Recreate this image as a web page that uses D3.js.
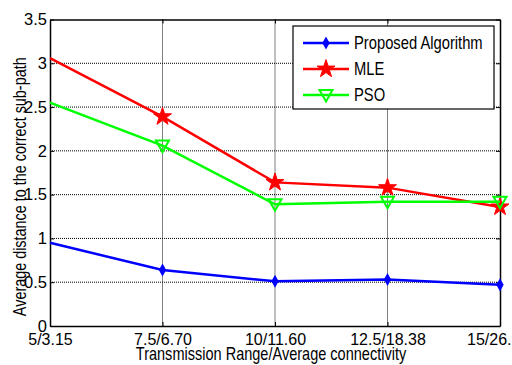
<!DOCTYPE html>
<html>
<head>
<meta charset="utf-8">
<script src="https://cdn.jsdelivr.net/npm/d3@7"></script>
<style>
  body { margin: 0; background: #fff; }
  svg { display: block; font-family: "Liberation Sans", Arial, sans-serif; }
  .grid line { stroke: #000; stroke-dasharray: 1,1; stroke-width: 1; }
</style>
</head>
<body>
<svg id="chart" width="512" height="365"></svg>
<script>
// categories on the x axis
var categories = ["5/3.15", "7.5/6.70", "10/11.60", "12.5/18.38", "15/26."];
var yTicks = [0, 0.5, 1, 1.5, 2, 2.5, 3, 3.5];

// series values
var proposed = [0.95, 0.64, 0.51, 0.53, 0.47];
var mle = [3.06, 2.39, 1.64, 1.58, 1.36];
var pso = [2.55, 2.06, 1.39, 1.42, 1.42];

var seriesNames = ["Proposed Algorithm", "MLE", "PSO"];
var seriesColors = ["#0000ff", "#ff0000", "#00ff00"];
var seriesMarkers = ["diamond", "star", "triangle"];

var svg = d3.select("#chart"),
    margin = { top: 19.5, right: 12, bottom: 39, left: 50 },
    width = +svg.attr("width") - margin.left - margin.right,
    height = +svg.attr("height") - margin.top - margin.bottom;

var x = d3.scalePoint().domain(categories).range([0, width]);
var y = d3.scaleLinear().domain([0, 3.5]).range([height, 0]);

var g = svg.append("g")
    .attr("transform", "translate(" + margin.left + "," + margin.top + ")");

// grid
g.append("g").attr("class", "grid")
    .selectAll("line").data(yTicks.slice(1, -1)).enter().append("line")
    .attr("x1", 0).attr("x2", width)
    .attr("y1", function (d) { return y(d); })
    .attr("y2", function (d) { return y(d); });
g.append("g").attr("class", "grid")
    .selectAll("line").data(categories.slice(1, -1)).enter().append("line")
    .attr("y1", 0).attr("y2", height)
    .attr("x1", function (d) { return x(d); })
    .attr("x2", function (d) { return x(d); });

// axes
var xAxis = g.append("g")
    .attr("transform", "translate(0," + height + ")")
    .call(d3.axisBottom(x).tickSize(-4).tickSizeOuter(0).tickPadding(8));
xAxis.selectAll("text").style("font-size", "16px").attr("fill", "#000");
// last label is cut by the figure edge in the original, keep it inside
xAxis.selectAll(".tick:last-of-type text").attr("text-anchor", "end").attr("dx", "11");

var yAxis = g.append("g")
    .call(d3.axisLeft(y).tickValues(yTicks).tickFormat(d3.format("")).tickSize(-4).tickSizeOuter(0).tickPadding(3));
yAxis.selectAll("text").style("font-size", "16.5px").attr("fill", "#000");

// mirror ticks on top and right
g.append("g").call(d3.axisTop(x).tickSize(-4).tickSizeOuter(0).tickFormat(""));
g.append("g").attr("transform", "translate(" + width + ",0)")
    .call(d3.axisRight(y).tickValues(yTicks).tickSize(-4).tickSizeOuter(0).tickFormat(""));

g.selectAll(".domain").attr("stroke", "#000").attr("stroke-width", 1.5);
g.selectAll(".tick line").attr("stroke", "#000");

// lines and markers
var allSeries = [proposed, mle, pso];
var line = d3.line()
    .x(function (d, i) { return x(categories[i]); })
    .y(function (d) { return y(d); });

function marker(sel, type, color) {
    if (type === "diamond") {
        sel.append("path").attr("d", "M0,-5L2.8,0L0,5L-2.8,0Z")
            .attr("fill", color).attr("stroke", color).attr("stroke-width", 1.5);
    } else if (type === "star") {
        sel.append("path").attr("d", d3.symbol(d3.symbolStar, 100)())
            .attr("fill", color).attr("stroke", color).attr("stroke-width", 1);
    } else {
        sel.append("path").attr("d", "M-6.5,-5L6.5,-5L0,6.5Z")
            .attr("fill", "none").attr("stroke", color).attr("stroke-width", 2);
    }
}

allSeries.forEach(function (vals, s) {
    g.append("path")
        .datum(vals)
        .attr("fill", "none")
        .attr("stroke", seriesColors[s])
        .attr("stroke-width", 2.5)
        .attr("d", line);
    g.selectAll(".m" + s)
        .data(vals.slice(1))
        .enter().append("g")
        .attr("class", "m" + s)
        .attr("transform", function (d, i) {
            return "translate(" + x(categories[i + 1]) + "," + y(d) + ")";
        })
        .each(function () { marker(d3.select(this), seriesMarkers[s], seriesColors[s]); });
});

// legend
var legend = svg.append("g").attr("transform", "translate(293,26)");
legend.append("rect")
    .attr("width", 201).attr("height", 83)
    .attr("fill", "#fff").attr("stroke", "#000").attr("stroke-width", 1.2);
seriesNames.forEach(function (name, i) {
    var ly = 17 + i * 26;
    legend.append("line")
        .attr("x1", 10).attr("x2", 56).attr("y1", ly).attr("y2", ly)
        .attr("stroke", seriesColors[i]).attr("stroke-width", 2.5);
    var mg = legend.append("g").attr("transform", "translate(33," + ly + ")");
    marker(mg, seriesMarkers[i], seriesColors[i]);
    // the original font is condensed, squeeze it horizontally
    legend.append("text")
        .attr("transform", "translate(61," + (ly + 6) + ") scale(0.82,1)")
        .style("font-size", "18px")
        .text(name);
});

// axis titles
svg.append("text")
    .attr("transform", "translate(" + (margin.left + width / 2 - 4) + ",360) scale(0.83,1)")
    .attr("text-anchor", "middle")
    .style("font-size", "17.5px")
    .text("Transmission Range/Average connectivity");

svg.append("text")
    .attr("transform", "translate(26," + (margin.top + height / 2 + 14) + ") rotate(-90) scale(0.8,1)")
    .attr("text-anchor", "middle")
    .style("font-size", "18px")
    .text("Average distance to the correct sub-path");
</script>
</body>
</html>
